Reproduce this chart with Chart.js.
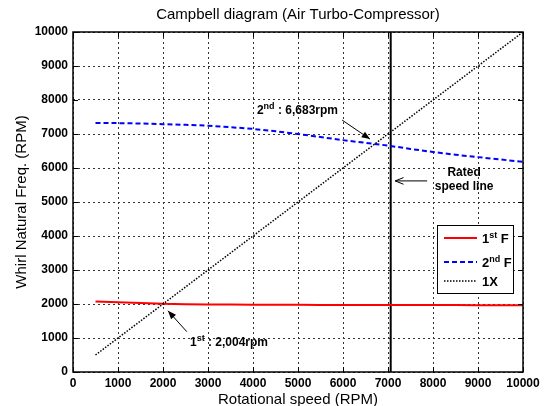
<!DOCTYPE html>
<html>
<head>
<meta charset="utf-8">
<script src="https://cdn.jsdelivr.net/npm/chart.js@4.4.1/dist/chart.umd.min.js"></script>
<style>
  html, body { margin: 0; padding: 0; background: #fff; }
</style>
</head>
<body>
<canvas id="campbell" width="551" height="406"></canvas>
<script>
// Rotational speed (RPM) at which the whirl frequencies were read
const speed = [500, 1000, 1500, 2000, 2500, 3000, 3500, 4000, 4500, 5000,
               5500, 6000, 6500, 7000, 7500, 8000, 8500, 9000, 9500, 10000];
// 1st forward whirl mode (RPM)
const firstF = [2075, 2050, 2030, 2004, 1995, 1985, 1982, 1980, 1978, 1975,
                1974, 1972, 1971, 1970, 1969, 1968, 1967, 1966, 1966, 1965];
// 2nd forward whirl mode (RPM)
const secondF = [7320, 7320, 7310, 7290, 7270, 7245, 7200, 7150, 7080, 7000,
                 6910, 6820, 6740, 6660, 6560, 6470, 6390, 6320, 6250, 6180];
// 1X excitation line
const oneXSpeed = [500, 10000];
const oneX = [500, 10000];
// rated speed line
const ratedSpeed = [7060, 7060];
const ratedSpan = [0, 10000];

const xy = (xs, ys) => xs.map((v, i) => ({ x: v, y: ys[i] }));

const FONT = '"Liberation Sans", Arial, Helvetica, sans-serif';

// draws text with superscript pieces
function drawParts(ctx, parts, x, y, size) {
  let cx = x;
  ctx.textBaseline = 'alphabetic';
  ctx.textAlign = 'left';
  parts.forEach(p => {
    ctx.font = 'bold ' + (p.sup ? Math.round(size * 0.72) : size) + 'px ' + FONT;
    ctx.fillText(p.t, cx, p.sup ? y - size * 0.42 : y);
    cx += ctx.measureText(p.t).width;
  });
}

function arrow(ctx, x1, y1, x2, y2, filled) {
  const a = Math.atan2(y2 - y1, x2 - x1);
  const len = 9, w = 0.38;
  ctx.beginPath();
  ctx.moveTo(x1, y1);
  ctx.lineTo(x2, y2);
  ctx.stroke();
  ctx.beginPath();
  ctx.moveTo(x2 - len * Math.cos(a - w), y2 - len * Math.sin(a - w));
  ctx.lineTo(x2, y2);
  ctx.lineTo(x2 - len * Math.cos(a + w), y2 - len * Math.sin(a + w));
  if (filled) { ctx.closePath(); ctx.fill(); } else { ctx.stroke(); }
}

// annotations in data units
const notes = {
  second: { text: [5110, 7700], tail: [5980, 7410], head: [6600, 6850] },
  first: { text: [2600, 890], tail: [2530, 1185], head: [2110, 1800] },
  rated: { text: [8690, 5860, 5450], tail: [7870, 5620], head: [7160, 5620] }
};

const decorations = {
  id: 'decorations',
  afterDraw(chart) {
    const { ctx, chartArea: a, scales: { x, y } } = chart;
    ctx.save();
    ctx.fillStyle = '#000';
    ctx.strokeStyle = '#000';

    // frame
    ctx.lineWidth = 1.5;
    ctx.setLineDash([]);
    ctx.strokeRect(a.left, a.top, a.right - a.left, a.bottom - a.top);

    // inward ticks on all four sides
    ctx.lineWidth = 1;
    const tl = 5;
    x.ticks.forEach(t => {
      const px = Math.round(x.getPixelForValue(t.value)) + 0.5;
      ctx.beginPath();
      ctx.moveTo(px, a.bottom); ctx.lineTo(px, a.bottom - tl);
      ctx.moveTo(px, a.top); ctx.lineTo(px, a.top + tl);
      ctx.stroke();
    });
    y.ticks.forEach(t => {
      const py = Math.round(y.getPixelForValue(t.value)) + 0.5;
      ctx.beginPath();
      ctx.moveTo(a.left, py); ctx.lineTo(a.left + tl, py);
      ctx.moveTo(a.right, py); ctx.lineTo(a.right - tl, py);
      ctx.stroke();
    });

    // title and axis titles
    ctx.textAlign = 'center';
    ctx.textBaseline = 'middle';
    ctx.font = '15px ' + FONT;
    ctx.fillText('Campbell diagram (Air Turbo-Compressor)', (a.left + a.right) / 2, 15);
    ctx.fillText('Rotational speed (RPM)', (a.left + a.right) / 2, 400);
    ctx.save();
    ctx.translate(22, (a.top + a.bottom) / 2);
    ctx.rotate(-Math.PI / 2);
    ctx.fillText('Whirl Natural Freq. (RPM)', 0, 0);
    ctx.restore();

    // annotations
    ctx.lineWidth = 1;
    const P = (p) => [x.getPixelForValue(p[0]), y.getPixelForValue(p[1])];
    let n = notes.second;
    let t = P(n.text);
    drawParts(ctx, [{ t: '2' }, { t: 'nd', sup: true }, { t: ' : 6,683rpm' }], t[0] - 46, t[1] + 4, 12);
    let p1 = P(n.tail), p2 = P(n.head);
    arrow(ctx, p1[0], p1[1], p2[0], p2[1], true);

    n = notes.first;
    t = P(n.text);
    drawParts(ctx, [{ t: '1' }, { t: 'st', sup: true }, { t: ' : 2,004rpm' }], t[0], t[1] + 4, 12);
    p1 = P(n.tail); p2 = P(n.head);
    arrow(ctx, p1[0], p1[1], p2[0], p2[1], true);

    n = notes.rated;
    ctx.font = 'bold 12px ' + FONT;
    ctx.textAlign = 'center';
    ctx.textBaseline = 'middle';
    const rx = x.getPixelForValue(n.text[0]);
    ctx.fillText('Rated', rx, y.getPixelForValue(n.text[1]));
    ctx.fillText('speed line', rx, y.getPixelForValue(n.text[2]));
    p1 = P(n.tail); p2 = P(n.head);
    arrow(ctx, p1[0], p1[1], p2[0], p2[1], false);

    // legend box
    const L = { left: 437, top: 225, right: 513, bottom: 293 };
    ctx.fillStyle = '#fff';
    ctx.fillRect(L.left, L.top, L.right - L.left, L.bottom - L.top);
    ctx.lineWidth = 1;
    ctx.strokeStyle = '#000';
    ctx.strokeRect(L.left + 0.5, L.top + 0.5, L.right - L.left, L.bottom - L.top);
    const rows = [
      { y: 238, color: '#ff0000', dash: [], width: 2, label: [{ t: '1' }, { t: 'st', sup: true }, { t: ' F' }] },
      { y: 262, color: '#0000ff', dash: [5, 3], width: 2, label: [{ t: '2' }, { t: 'nd', sup: true }, { t: ' F' }] },
      { y: 281, color: '#000000', dash: [1.5, 1.5], width: 1.5, label: [{ t: '1X' }] }
    ];
    rows.forEach(r => {
      ctx.strokeStyle = r.color;
      ctx.lineWidth = r.width;
      ctx.setLineDash(r.dash);
      ctx.beginPath();
      ctx.moveTo(444, r.y); ctx.lineTo(477, r.y);
      ctx.stroke();
      ctx.setLineDash([]);
      ctx.fillStyle = '#000';
      drawParts(ctx, r.label, 482, r.y + 5, 13);
    });
    ctx.restore();
  }
};

const plain = (v) => String(v);

new Chart(document.getElementById('campbell'), {
  type: 'line',
  data: {
    datasets: [
      {
        label: '1X',
        data: xy(oneXSpeed, oneX),
        borderColor: '#000',
        borderWidth: 1.5,
        borderDash: [1.5, 1.5],
        pointRadius: 0,
        fill: false
      },
      {
        label: '1st F',
        data: xy(speed, firstF),
        borderColor: '#ff0000',
        borderWidth: 2,
        pointRadius: 0,
        tension: 0,
        fill: false
      },
      {
        label: '2nd F',
        data: xy(speed, secondF),
        borderColor: '#0000ff',
        borderWidth: 2,
        borderDash: [5, 3],
        pointRadius: 0,
        tension: 0,
        fill: false
      },
      {
        label: 'Rated speed',
        data: xy(ratedSpeed, ratedSpan),
        borderColor: '#000',
        borderWidth: 2,
        pointRadius: 0,
        fill: false
      }
    ]
  },
  options: {
    responsive: false,
    animation: false,
    layout: { padding: { top: 32, right: 28, left: 0, bottom: 0 } },
    plugins: {
      legend: { display: false },
      title: { display: false },
      tooltip: { enabled: false }
    },
    scales: {
      x: {
        type: 'linear',
        min: 0, max: 10000,
        ticks: {
          stepSize: 1000,
          color: '#000',
          padding: 4,
          maxRotation: 0,
          callback: plain,
          font: { family: FONT, size: 12, weight: 'bold' }
        },
        grid: { color: '#333', lineWidth: 1, drawTicks: false },
        border: { display: false, dash: [2, 3] },
        afterFit(s) { s.height = 34; s.paddingLeft = 0; s.paddingRight = 0; }
      },
      y: {
        type: 'linear',
        min: 0, max: 10000,
        ticks: {
          stepSize: 1000,
          color: '#000',
          padding: 5,
          callback: plain,
          font: { family: FONT, size: 12, weight: 'bold' }
        },
        grid: { color: '#333', lineWidth: 1, drawTicks: false },
        border: { display: false, dash: [2, 3] },
        afterFit(s) { s.width = 73; s.paddingTop = 0; s.paddingBottom = 0; }
      }
    }
  },
  plugins: [decorations]
});
</script>
</body>
</html>
